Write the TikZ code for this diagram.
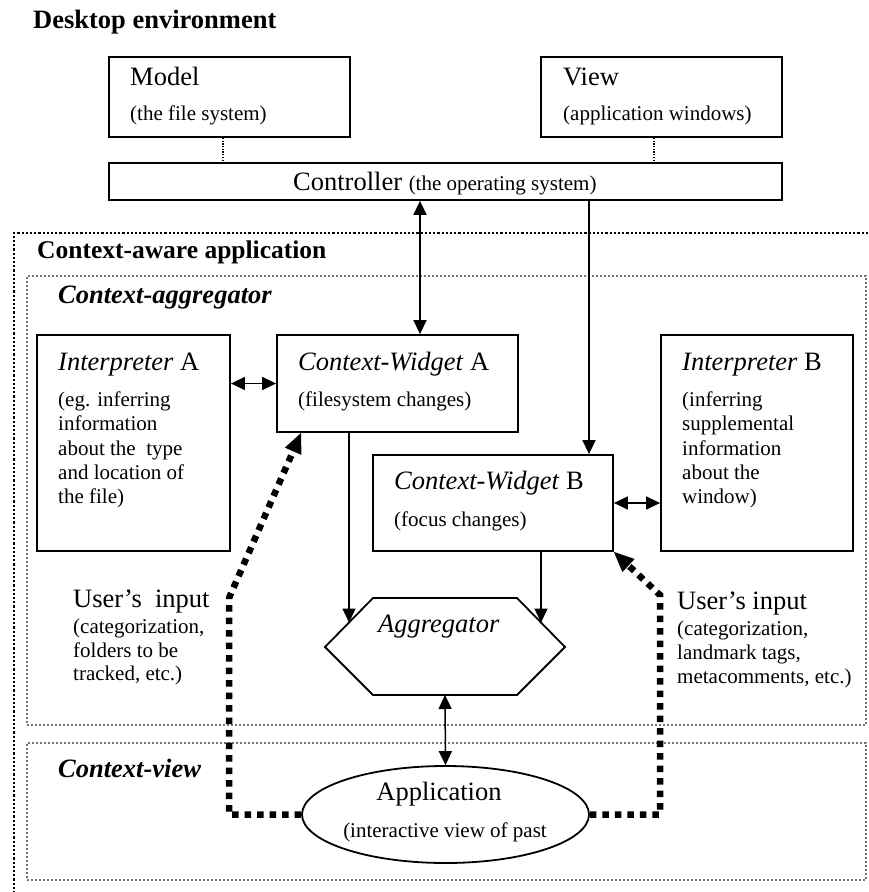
\documentclass[tikz,border=0pt]{standalone}
\usepackage{fontspec}
\setmainfont{Liberation Serif}
\usetikzlibrary{arrows.meta,shapes.geometric,calc}

\tikzset{
  box/.style={draw, line width=1.8pt, inner sep=0pt},
  frm/.style={draw=black!55, line width=2pt, dash pattern=on 2pt off 2pt, inner sep=0pt},
  head/.style={anchor=base west, inner sep=0pt, font=\bfseries\fontsize{26.5}{30}\selectfont},
  headit/.style={anchor=base west, inner sep=0pt, font=\bfseries\itshape\fontsize{26.5}{30}\selectfont},
  ttl/.style={anchor=base west, inner sep=0pt, font=\fontsize{26.5}{30}\selectfont},
  txt/.style={anchor=base west, inner sep=0pt, font=\fontsize{21}{25}\selectfont},
  arr/.style={line width=1.5pt, -{Triangle[length=14pt,width=13pt]}},
  biarr/.style={line width=1.5pt, {Triangle[length=14pt,width=13pt]}-{Triangle[length=14pt,width=13pt]}},
  userin/.style={line width=6.5pt, dash pattern=on 6.5pt off 6pt, -{Triangle[length=20pt,width=18pt,line width=0pt]}},
  link/.style={line width=1.2pt, dash pattern=on 1.2pt off 1.5pt},
}

\begin{document}
\begin{tikzpicture}[x=1pt,y=-1pt]
\useasboundingbox (0,0) rectangle (868,892);

% frames
\draw[line width=2.2pt, dash pattern=on 2.2pt off 2pt] (868,233) -- (14,233) -- (14,892);
\node[frm, minimum width=839pt, minimum height=449pt] (aggfr) at (446.5,500.5) {};
\node[frm, minimum width=839pt, minimum height=137pt] (viewfr) at (446.5,811.5) {};

\node[head] (deskT) at (33,28) {Desktop environment};
\node[head, font=\bfseries\fontsize{25.5}{30}\selectfont] (appT) at (37,258) {Context-aware application};
\node[headit] (aggfrT) at (58,303) {Context-aggregator};
\node[headit] (viewfrT) at (58,777) {Context-view};

% desktop
\node[box, minimum width=241pt, minimum height=80pt] (model) at (229.5,97) {};
\node[ttl] (model-1) at (130,85) {Model};
\node[txt] (model-2) at (130,120) {(the file system)};
\node[box, minimum width=241pt, minimum height=80pt] (view) at (661.5,97) {};
\node[ttl] (view-1) at (563,85) {View};
\node[txt] (view-2) at (563,120) {(application windows)};
\node[box, minimum width=673pt, minimum height=37pt] (ctrl) at (445.5,181.5) {};
\node[ttl] (ctrl-1) at (293,190) {Controller {\fontsize{21}{25}\selectfont (the operating system)}};
\coordinate (m1) at (223,0);
\coordinate (v1) at (654,0);
\draw[link] (model.south -| m1) -- (ctrl.north -| m1);
\draw[link] (view.south -| v1) -- (ctrl.north -| v1);

% context-aggregator
\node[box, minimum width=193pt, minimum height=216pt] (intA) at (133.5,443) {};
\node[ttl] (intA-0) at (58,370) {\textit{Interpreter} A};
\node[txt] (intA-1) at (58,406) {(eg. inferring};
\node[txt] (intA-2) at (58,430) {information};
\node[txt] (intA-3) at (58,455) {about the\ \ type};
\node[txt] (intA-4) at (58,479) {and location of};
\node[txt] (intA-5) at (58,503) {the file)};

\node[box, minimum width=241pt, minimum height=97pt] (cwA) at (397.5,383.5) {};
\node[ttl] (cwA-0) at (298,370) {\textit{Context-Widget} A};
\node[txt] (cwA-1) at (298,406) {(filesystem changes)};

\node[box, minimum width=240pt, minimum height=96pt] (cwB) at (493,503) {};
\node[ttl] (cwB-0) at (394,489) {\textit{Context-Widget} B};
\node[txt] (cwB-1) at (394,526) {(focus changes)};

\node[box, minimum width=192pt, minimum height=216pt] (intB) at (757,443) {};
\node[ttl] (intB-0) at (682,370) {\textit{Interpreter} B};
\node[txt] (intB-1) at (682,406) {(inferring};
\node[txt] (intB-2) at (682,430) {supplemental};
\node[txt] (intB-3) at (682,455) {information};
\node[txt] (intB-4) at (682,479) {about the};
\node[txt] (intB-5) at (682,503) {window)};

% aggregator
\coordinate (hL) at (325,647);
\coordinate (hTL) at (373,598);
\coordinate (hTR) at (517,598);
\coordinate (hR) at (565,647);
\coordinate (hBR) at (517,695);
\coordinate (hBL) at (373,695);
\draw[line width=1.8pt, line join=miter] (hL) -- (hTL) -- (hTR) -- (hR) -- (hBR) -- (hBL) -- cycle;
\node[ttl] (agg) at (378,632) {\textit{Aggregator}};
\coordinate (aggInA) at ($(hL)!0.5!(hTL)$);
\coordinate (aggInB) at ($(hTR)!0.5!(hR)$);
\coordinate (aggOut) at ($(hBL)!0.5!(hBR)$);

% context-view
\node[box, ellipse, minimum width=287pt, minimum height=97pt] (app) at (445.5,814.5) {};
\node[ttl, anchor=base] (app-1) at (439,800) {Application};
\node[txt, anchor=base] (app-2) at (445,837) {(interactive view of past};

% user input
\node[ttl] (uiA-0) at (73,607) {User's\ \ input};
\node[txt] (uiA-1) at (73,633) {(categorization,};
\node[txt] (uiA-2) at (73,657) {folders to be};
\node[txt] (uiA-3) at (73,680) {tracked, etc.)};
\node[ttl] (uiB-0) at (677,609) {User's input};
\node[txt] (uiB-1) at (677,635) {(categorization,};
\node[txt] (uiB-2) at (677,659) {landmark tags,};
\node[txt] (uiB-3) at (677,683) {metacomments, etc.)};

% connectors
\coordinate (c1) at (420,0);
\coordinate (c2) at (589,0);
\draw[biarr] (ctrl.south -| c1) -- (cwA.north -| c1);
\draw[arr] (ctrl.south -| c2) -- (cwB.north -| c2);
\draw[biarr] (intA.east |- cwA) -- (cwA.west);
\draw[biarr] (cwB.east) -- (intB.west |- cwB);
\draw[arr] (cwA.south -| aggInA) -- (aggInA);
\draw[arr] (cwB.south -| aggInB) -- (aggInB);
\draw[biarr] (aggOut) -- (app.north);

\coordinate (uA) at (229,598);
\coordinate (uB) at (660,595);
\draw[userin] (app.west) -- (app.west -| uA) -- (uA) -- ($(cwA.south west)+(25,0)$);
\draw[userin] (app.east) -- (app.east -| uB) -- (uB) -- (cwB.south east);
\end{tikzpicture}
\end{document}
